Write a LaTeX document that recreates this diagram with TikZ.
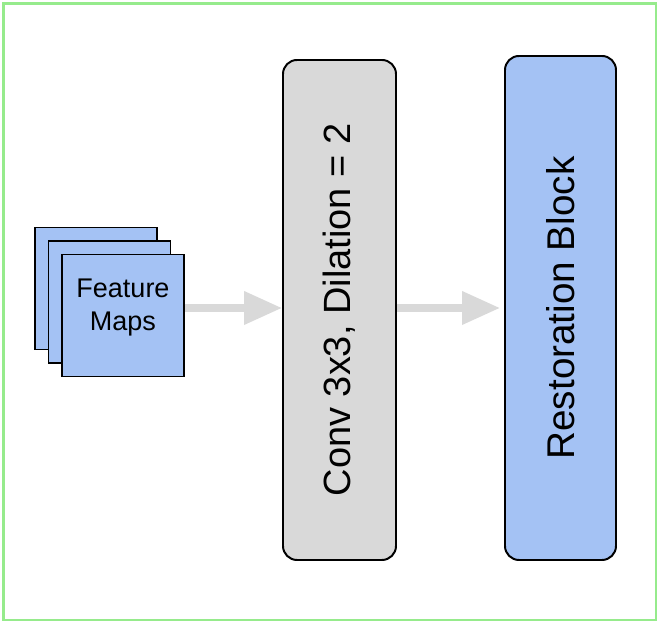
\documentclass[tikz,border=0pt]{standalone}
\usepackage{fontspec}
\setmainfont{Liberation Sans}
\usetikzlibrary{calc,arrows.meta}

\definecolor{mapblue}{HTML}{A4C2F4}
\definecolor{convgray}{HTML}{D9D9D9}
\definecolor{framegreen}{RGB}{150,235,140}

\begin{document}
\begin{tikzpicture}[every node/.style={align=center,text=black},
    fmap/.style={draw,fill=mapblue,line width=1.4pt,minimum width=3.05cm,
      minimum height=3.05cm,inner sep=0pt},
    block/.style={draw,line width=1.4pt,rounded corners=0.35cm,inner sep=0pt,
      font=\fontsize{27}{30}\selectfont},
    flow/.style={draw=convgray,line width=5pt,
      -{Triangle[length=0.95cm,width=0.8cm]}}]

    \useasboundingbox (0,0) rectangle (16.5,15.6);
    \draw[framegreen,line width=2.1pt] (0.0875,0.1) rectangle (16.4,15.5125);

    \node (fmC) [fmap] at ($(3.075,7.7125)+(-0.675,0.675)$) {};
    \node (fmB) [fmap] at ($(3.075,7.7125)+(-0.3375,0.3375)$) {};
    \node (fmA) [fmap] at (3.075,7.7125) {};
    \node (fmtext) [font=\fontsize{19.2}{24}\selectfont]
      at ($(fmA.center)+(0,0.2)$) {Feature\\Maps};

    \node (conv) [block,fill=convgray,minimum width=2.825cm,minimum height=12.5cm]
      at (8.4875,7.85) {};
    \node [rotate=90,font=\fontsize{27}{30}\selectfont] at (conv.center)
      {Conv 3x3, Dilation = 2};

    \node (rest) [block,fill=mapblue,minimum width=2.775cm,minimum height=12.6cm]
      at (14.0125,7.9) {};
    \node [rotate=90,font=\fontsize{27.5}{30}\selectfont] at (rest.center)
      {Restoration Block};

    \draw[flow] (fmA.east |- 0,7.9) -- (conv.west |- 0,7.9);
    \draw[flow,shorten >=0.1cm] (conv.east |- 0,7.9) -- (rest.west |- 0,7.9);
  \end{tikzpicture}
\end{document}
